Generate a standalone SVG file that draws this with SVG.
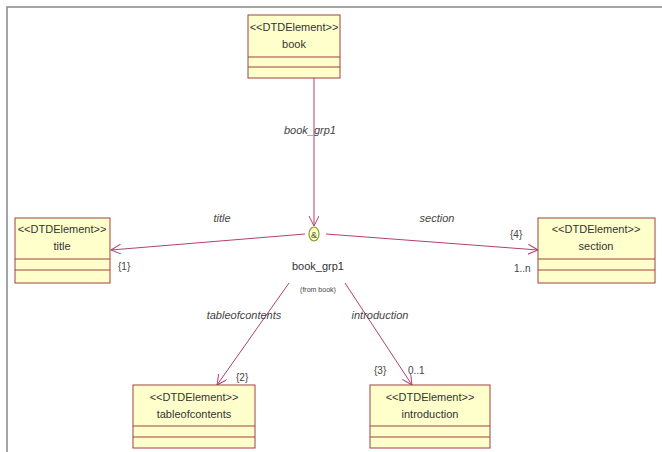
<svg xmlns="http://www.w3.org/2000/svg" width="662" height="452" viewBox="0 0 662 452">
<style>
.box{fill:#FFFFCC;stroke:#A04040;stroke-width:1}
.sep{stroke:#A04040;stroke-width:1}
.t{font-family:"Liberation Sans",Arial,sans-serif;font-size:11px;fill:#333;text-anchor:middle}
.lbl{font-family:"Liberation Sans",Arial,sans-serif;font-size:11px;fill:#444;font-style:italic;text-anchor:middle}
.m{font-family:"Liberation Sans",Arial,sans-serif;font-size:10px;fill:#444}
.c{stroke:#B04070;stroke-width:1;fill:none}
</style>
<defs>
<marker id="arr" markerWidth="12" markerHeight="12" refX="10" refY="5" orient="auto" markerUnits="userSpaceOnUse">
<path d="M0,0 L10,5 L0,10" fill="none" stroke="#B04070" stroke-width="1"/>
</marker>
</defs>
<rect x="0" y="0" width="662" height="452" fill="#fff"/>
<path d="M7,452 L7,7 L662,7" fill="none" stroke="#888" stroke-width="1.5"/>

<g id="connectors">
<line class="c" x1="314" y1="78" x2="314" y2="226" marker-end="url(#arr)"/>
<text class="lbl" x="310" y="134">book_grp1</text>
<line class="c" x1="305" y1="234" x2="111" y2="250" marker-end="url(#arr)"/>
<text class="lbl" x="222" y="222">title</text>
<text class="m" x="118" y="270">{1}</text>
<line class="c" x1="326" y1="234" x2="538" y2="250" marker-end="url(#arr)"/>
<text class="lbl" x="437" y="222">section</text>
<text class="m" x="510" y="238">{4}</text>
<text class="m" x="514" y="272">1..n</text>
<line class="c" x1="289" y1="283" x2="217" y2="385" marker-end="url(#arr)"/>
<text class="lbl" x="244" y="319">tableofcontents</text>
<text class="m" x="236" y="381">{2}</text>
<line class="c" x1="345" y1="283" x2="412" y2="385" marker-end="url(#arr)"/>
<text class="lbl" x="380" y="319">introduction</text>
<text class="m" x="374" y="374">{3}</text>
<text class="m" x="408" y="374">0..1</text>
</g>

<g id="book_grp1">
<ellipse cx="314" cy="234" rx="5" ry="7" fill="#FFFFCC" stroke="#8A9A30" stroke-width="1.2"/>
<text x="314" y="238" font-family="Liberation Sans,Arial,sans-serif" font-size="9" fill="#4A5A10" text-anchor="middle">&amp;</text>
<text class="t" x="318" y="270">book_grp1</text>
<text x="318" y="292" font-family="Liberation Sans,Arial,sans-serif" font-size="7" fill="#444" text-anchor="middle">(from book)</text>
</g>

<g id="book">
<rect class="box" x="248" y="15" width="92" height="63"/>
<line class="sep" x1="248" y1="57" x2="340" y2="57"/>
<line class="sep" x1="248" y1="67" x2="340" y2="67"/>
<text class="t" x="294" y="31">&lt;&lt;DTDElement&gt;&gt;</text>
<text class="t" x="294" y="48">book</text>
</g>

<g id="title">
<rect class="box" x="15" y="218" width="95" height="65"/>
<line class="sep" x1="15" y1="259" x2="110" y2="259"/>
<line class="sep" x1="15" y1="270" x2="110" y2="270"/>
<text class="t" x="62" y="233">&lt;&lt;DTDElement&gt;&gt;</text>
<text class="t" x="62" y="250">title</text>
</g>

<g id="section">
<rect class="box" x="538" y="218" width="117" height="65"/>
<line class="sep" x1="538" y1="259" x2="655" y2="259"/>
<line class="sep" x1="538" y1="270" x2="655" y2="270"/>
<text class="t" x="596" y="233">&lt;&lt;DTDElement&gt;&gt;</text>
<text class="t" x="596" y="250">section</text>
</g>

<g id="tableofcontents">
<rect class="box" x="133" y="385" width="122" height="63"/>
<line class="sep" x1="133" y1="426" x2="255" y2="426"/>
<line class="sep" x1="133" y1="437" x2="255" y2="437"/>
<text class="t" x="194" y="401">&lt;&lt;DTDElement&gt;&gt;</text>
<text class="t" x="194" y="418">tableofcontents</text>
</g>

<g id="introduction">
<rect class="box" x="370" y="385" width="120" height="63"/>
<line class="sep" x1="370" y1="426" x2="490" y2="426"/>
<line class="sep" x1="370" y1="437" x2="490" y2="437"/>
<text class="t" x="430" y="401">&lt;&lt;DTDElement&gt;&gt;</text>
<text class="t" x="430" y="418">introduction</text>
</g>
</svg>
